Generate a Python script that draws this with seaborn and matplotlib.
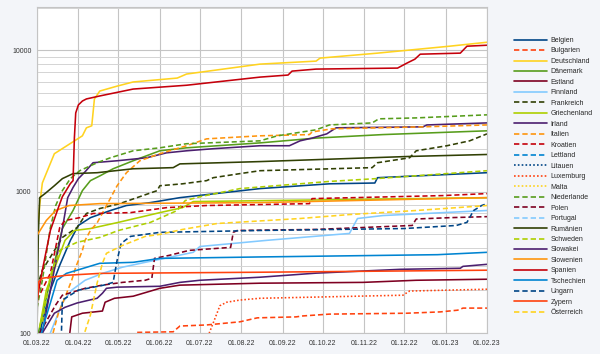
import pandas as pd
import matplotlib
matplotlib.use("Agg")
import matplotlib.pyplot as plt
import matplotlib.dates as mdates
from matplotlib.ticker import FixedLocator, LogLocator, NullFormatter, FuncFormatter
import seaborn as sns

# === 1. Daten (Datum TT.MM.JJ) ===
belgien_t = ["03.03.22", "11.03.22", "18.03.22", "26.03.22", "01.04.22", "10.04.22", "25.04.22", "07.05.22",
             "25.05.22", "16.06.22", "26.07.22", "15.08.22", "06.10.22", "09.11.22", "11.11.22", "01.02.23"]
belgien_n = [100, 201, 301, 452, 576, 654, 735, 797, 836, 906, 1000, 1050, 1135, 1150, 1254, 1360]

bulgarien_t = ["15.05.22", "11.06.22", "16.06.22", "06.07.22", "31.07.22", "13.08.22", "11.09.22", "16.09.22",
               "06.10.22", "03.12.22", "28.12.22", "10.01.23", "14.01.23", "01.02.23"]
bulgarien_n = [101, 102, 112, 114, 120, 128, 130, 132, 136, 138, 141, 145, 150, 150]

deutschland_t = ["01.03.22", "03.03.22", "05.03.22", "08.03.22", "14.03.22", "04.04.22", "07.04.22", "11.04.22",
                 "13.04.22", "17.04.22", "30.04.22", "12.05.22", "14.06.22", "21.06.22", "15.08.22", "26.09.22",
                 "29.09.22", "11.11.22", "04.01.23", "01.02.23"]
deutschland_n = [450, 800, 1150, 1350, 1853, 2480, 2825, 2920, 4519, 5140, 5570, 5960, 6350, 6780, 7970, 8370,
                 8790, 9530, 10670, 11380]

daenemark_t = ["02.03.22", "11.03.22", "20.03.22", "28.03.22", "04.04.22", "10.04.22", "17.04.22", "27.04.22",
               "12.05.22", "01.06.22", "21.06.22", "15.08.22", "26.09.22", "15.11.22", "01.02.23"]
daenemark_n = [100, 236, 548, 735, 1016, 1195, 1290, 1450, 1652, 1943, 2040, 2210, 2390, 2530, 2690]

estland_t = ["25.03.22", "27.03.22", "04.04.22", "19.04.22", "21.04.22", "28.04.22", "12.05.22", "01.06.22",
             "16.06.22", "15.08.22", "31.10.22", "10.12.22", "01.02.23"]
estland_n = [90, 130, 138, 143, 165, 176, 182, 207, 218, 225, 228, 236, 240]

finnland_t = ["11.03.22", "20.03.22", "27.03.22", "06.04.22", "19.04.22", "04.05.22", "21.05.22", "26.06.22",
              "01.07.22", "20.08.22", "21.10.22", "25.10.22", "27.10.22", "15.11.22", "01.02.23"]
finnland_n = [100, 163, 201, 236, 264, 292, 316, 372, 409, 452, 506, 595, 645, 677, 735]

frankreich_t = ["01.03.22", "05.03.22", "20.03.22", "31.03.22", "07.04.22", "17.04.22", "02.05.22", "30.05.22",
                "01.06.22", "18.06.22", "06.07.22", "11.07.22", "31.07.22", "15.08.22", "07.11.22", "11.11.22",
                "05.12.22", "10.12.22", "02.01.23", "19.01.23", "01.02.23"]
frankreich_n = [211, 278, 474, 557, 700, 759, 822, 1016, 1100, 1135, 1195, 1254, 1340, 1405, 1477, 1600,
                1734, 1943, 2110, 2285, 2560]

griechenland_t = ["03.03.22", "08.03.22", "15.03.22", "22.03.22", "29.03.22", "10.04.22", "01.05.22",
                  "01.06.22", "18.06.22", "26.06.22", "01.02.23"]
griechenland_n = [110, 201, 301, 452, 531, 548, 606, 710, 770, 850, 906]

irland_t = ["05.03.22", "11.03.22", "20.03.22", "24.03.22", "28.03.22", "01.04.22", "06.04.22", "12.04.22",
            "30.04.22", "22.05.22", "06.06.22", "21.06.22", "11.07.22", "15.08.22", "06.09.22", "14.09.22",
            "23.09.22", "04.10.22", "11.10.22", "15.12.22", "18.12.22", "01.02.23"]
irland_n = [100, 201, 548, 906, 1070, 1235, 1380, 1600, 1652, 1734, 1880, 1943, 2010, 2110, 2110, 2285,
            2390, 2560, 2825, 2870, 2960, 3060]

italien_t = ["13.03.22", "17.03.22", "22.03.22", "27.03.22", "30.03.22", "04.04.22", "06.04.22", "10.04.22",
             "15.04.22", "22.04.22", "30.04.22", "07.05.22", "17.05.22", "01.06.22", "21.06.22", "06.07.22",
             "15.08.22", "21.09.22", "23.09.22", "08.10.22", "15.12.22", "01.02.23"]
italien_n = [100, 138, 179, 236, 292, 384, 452, 531, 600, 795, 1100, 1360, 1652, 1853, 2110, 2360,
             2480, 2530, 2640, 2780, 2870, 2960]

kroatien_t = ["01.03.22", "11.03.22", "18.03.22", "22.03.22", "02.04.22", "12.04.22", "10.05.22", "06.06.22",
              "06.07.22", "21.09.22", "23.09.22", "30.12.22", "01.02.23"]
kroatien_n = [171, 264, 556, 625, 654, 700, 710, 770, 797, 822, 892, 937, 968]

lettland_t = ["01.03.22", "01.06.22", "01.02.23"]
lettland_n = [20, 45, 80]

litauen_t = ["01.03.22", "01.02.23"]
litauen_n = [15, 60]

luxemburg_t = ["01.07.22", "08.07.22", "11.07.22", "16.07.22", "21.07.22", "31.07.22", "15.08.22", "30.11.22",
               "05.12.22", "01.02.23"]
luxemburg_n = [90, 100, 118, 156, 165, 171, 176, 185, 198, 204]

malta_t = ["01.03.22", "01.02.23"]
malta_n = [10, 40]

niederlande_t = ["01.03.22", "05.03.22", "11.03.22", "15.03.22", "20.03.22", "26.03.22", "02.04.22", "15.04.22",
                 "25.04.22", "12.05.22", "01.06.22", "21.06.22", "15.08.22", "28.08.22", "26.09.22", "06.10.22",
                 "07.11.22", "12.11.22", "10.12.22", "01.02.23"]
niederlande_n = [150, 236, 556, 797, 1016, 1235, 1405, 1600, 1735, 1943, 2040, 2180, 2285, 2480, 2735, 2960,
                 3060, 3270, 3320, 3490]

polen_t = ["03.03.22", "15.03.22", "20.03.22", "06.04.22", "19.04.22", "04.05.22", "21.05.22", "26.05.22",
           "28.05.22", "08.06.22", "23.06.22", "24.07.22", "26.07.22", "29.07.22", "26.09.22", "07.12.22",
           "10.12.22", "04.01.23", "01.02.23"]
polen_n = [100, 158, 185, 207, 218, 228, 236, 244, 337, 354, 384, 403, 515, 531, 540, 576, 640, 654, 665]

portugal_t = ["01.03.22", "01.02.23"]
portugal_n = [30, 90]

rumaenien_t = ["01.03.22", "02.03.22", "03.03.22", "07.03.22", "14.03.22", "20.03.22", "28.03.22", "15.04.22",
               "12.05.22", "11.06.22", "16.06.22", "15.08.22", "03.12.22", "01.02.23"]
rumaenien_n = [100, 500, 906, 968, 1100, 1235, 1340, 1360, 1450, 1477, 1570, 1630, 1770, 1830]

schweden_t = ["05.03.22", "11.03.22", "18.03.22", "31.03.22", "17.04.22", "01.05.22", "25.05.22", "14.06.22",
              "20.06.22", "01.07.22", "31.07.22", "06.10.22", "10.11.22", "01.02.23"]
schweden_n = [120, 256, 384, 438, 474, 531, 606, 735, 864, 920, 1050, 1180, 1235, 1405]

slowakei_t = ["05.03.22", "14.03.22", "22.03.22", "31.03.22", "15.04.22", "19.04.22", "22.04.22", "30.04.22",
              "01.06.22", "16.06.22", "01.07.22", "15.08.22", "26.09.22", "28.11.22", "12.01.23", "14.01.23",
              "01.02.23"]
slowakei_n = [100, 138, 152, 163, 176, 191, 207, 211, 214, 228, 236, 248, 265, 282, 287, 296, 306]

slowenien_t = ["01.03.22", "08.03.22", "15.03.22", "25.03.22", "17.04.22", "15.08.22", "01.02.23"]
slowenien_n = [490, 625, 735, 797, 822, 836, 906]

spanien_t = ["01.03.22", "05.03.22", "11.03.22", "17.03.22", "20.03.22", "26.03.22", "28.03.22", "29.03.22",
             "30.03.22", "01.04.22", "04.04.22", "07.04.22", "17.04.22", "12.05.22", "21.06.22", "15.08.22",
             "05.09.22", "08.09.22", "26.09.22", "26.11.22", "03.12.22", "09.12.22", "13.12.22", "12.01.23",
             "17.01.23", "01.02.23"]
spanien_n = [171, 278, 531, 770, 920, 1140, 1195, 2400, 3600, 4100, 4370, 4520, 4745, 5310, 5650, 6450,
             6670, 7112, 7350, 7470, 8100, 8640, 9370, 9530, 10670, 10840]

tschechien_t = ["03.03.22", "07.03.22", "11.03.22", "16.03.22", "23.03.22", "31.03.22", "17.04.22", "12.05.22",
                "01.06.22", "15.08.22", "26.12.22", "01.02.23"]
tschechien_n = [90, 123, 163, 236, 264, 278, 311, 316, 337, 345, 358, 372]

ungarn_t = ["19.03.22", "20.03.22", "01.04.22", "20.04.22", "27.04.22", "30.04.22", "03.05.22", "10.05.22",
            "01.06.22", "15.08.22", "01.12.22", "09.01.23", "17.01.23", "22.01.23", "28.01.23", "01.02.23"]
ungarn_n = [80, 171, 201, 218, 228, 327, 430, 482, 515, 531, 548, 576, 606, 735, 797, 822]

zypern_t = ["01.03.22", "02.03.22", "05.03.22", "23.03.22", "17.04.22", "15.08.22", "01.02.23"]
zypern_n = [150, 229, 244, 256, 264, 269, 278]

oesterreich_t = ["04.04.22", "10.04.22", "15.04.22", "19.04.22", "22.04.22", "04.05.22", "21.05.22", "01.06.22",
                 "18.06.22", "14.07.22", "14.09.22", "21.10.22", "10.12.22", "01.02.23"]
oesterreich_n = [90, 134, 225, 311, 366, 416, 482, 498, 540, 595, 645, 688, 735, 797]

laender = ["Belgien", "Bulgarien", "Deutschland", "Dänemark", "Estland", "Finnland", "Frankreich",
           "Griechenland", "Irland", "Italien", "Kroatien", "Lettland", "Litauen", "Luxemburg", "Malta",
           "Niederlande", "Polen", "Portugal", "Rumänien", "Schweden", "Slowakei", "Slowenien", "Spanien",
           "Tschechien", "Ungarn", "Zypern", "Österreich"]
zeiten = [belgien_t, bulgarien_t, deutschland_t, daenemark_t, estland_t, finnland_t, frankreich_t,
          griechenland_t, irland_t, italien_t, kroatien_t, lettland_t, litauen_t, luxemburg_t, malta_t,
          niederlande_t, polen_t, portugal_t, rumaenien_t, schweden_t, slowakei_t, slowenien_t, spanien_t,
          tschechien_t, ungarn_t, zypern_t, oesterreich_t]
werte = [belgien_n, bulgarien_n, deutschland_n, daenemark_n, estland_n, finnland_n, frankreich_n,
         griechenland_n, irland_n, italien_n, kroatien_n, lettland_n, litauen_n, luxemburg_n, malta_n,
         niederlande_n, polen_n, portugal_n, rumaenien_n, schweden_n, slowakei_n, slowenien_n, spanien_n,
         tschechien_n, ungarn_n, zypern_n, oesterreich_n]

# LibreOffice-Standardfarben, Linienart pro Land
farben = ["#004586", "#ff420e", "#ffd320", "#579d1c", "#7e0021", "#83caff", "#314004", "#aecf00", "#4b1f6f",
          "#ff950e", "#c5000b", "#0084d1", "#004586", "#ff420e", "#ffd320", "#579d1c", "#7e0021", "#83caff",
          "#314004", "#aecf00", "#4b1f6f", "#ff950e", "#c5000b", "#0084d1", "#004586", "#ff420e", "#ffd320"]
gestrichelt = (3.2, 1.8)
gepunktet = (1, 1.3)
striche = ["", gestrichelt, "", "", "", "", gestrichelt, "", "", gestrichelt, gestrichelt, gestrichelt,
           gepunktet, gepunktet, gepunktet, gestrichelt, gestrichelt, gestrichelt, "", gestrichelt, "", "", "",
           "", gestrichelt, "", gestrichelt]

# === 2. Langformat ===
teile = []
for land, t, n in zip(laender, zeiten, werte):
    teile.append(pd.DataFrame({"Land": land, "Datum": t, "Wert": n}))
df = pd.concat(teile, ignore_index=True)
df["Datum"] = pd.to_datetime(df["Datum"], format="%d.%m.%y")

# === 3. Plot ===
sns.set_theme(style="white")
plt.rcParams["font.family"] = ["Liberation Sans", "DejaVu Sans"]

fig = plt.figure(figsize=(6, 3.54), dpi=100, facecolor="#f3f5f9")
ax = fig.add_axes([37 / 600, 1 - 333 / 354, 450 / 600, 326 / 354])
ax.set_facecolor("white")

sns.lineplot(data=df, x="Datum", y="Wert", hue="Land", style="Land",
             hue_order=laender, style_order=laender,
             palette=dict(zip(laender, farben)), dashes=dict(zip(laender, striche)),
             estimator=None, sort=False, linewidth=1.15, ax=ax)

ax.set_yscale("log")
ax.set_ylim(100, 20200)
ax.set_xlim(pd.Timestamp("2022-03-01"), pd.Timestamp("2023-02-01"))
ax.xaxis.set_major_locator(mdates.MonthLocator())
ax.xaxis.set_major_formatter(mdates.DateFormatter("%d.%m.%y"))
ax.yaxis.set_major_locator(FixedLocator([100, 1000, 10000]))
ax.yaxis.set_major_formatter(FuncFormatter(lambda v, p: f"{v:.0f}"))
ax.yaxis.set_minor_locator(LogLocator(subs=range(2, 10)))
ax.yaxis.set_minor_formatter(NullFormatter())
ax.grid(which="major", color="#c4c4c4", linewidth=0.8)
ax.grid(which="minor", axis="y", color="#d4d4d4", linewidth=0.7)
ax.set_axisbelow(True)
ax.tick_params(axis="both", which="both", length=0, labelsize=5, colors="#333333")
ax.tick_params(axis="x", pad=5)
ax.tick_params(axis="y", pad=4)
ax.set_xlabel("")
ax.set_ylabel("")
for s in ax.spines.values():
    s.set_color("#c4c4c4")
    s.set_linewidth(0.8)

sns.move_legend(ax, "upper left", bbox_to_anchor=(514 / 600, 1 - 37 / 354),
                bbox_transform=fig.transFigure, frameon=False, title=None,
                fontsize=5, handlelength=4.8, handletextpad=0.45, labelspacing=0.5,
                borderpad=0, borderaxespad=0)
for h in ax.get_legend().get_lines():
    h.set_linewidth(1.2)

fig.savefig("out.png", dpi=100, facecolor=fig.get_facecolor())
